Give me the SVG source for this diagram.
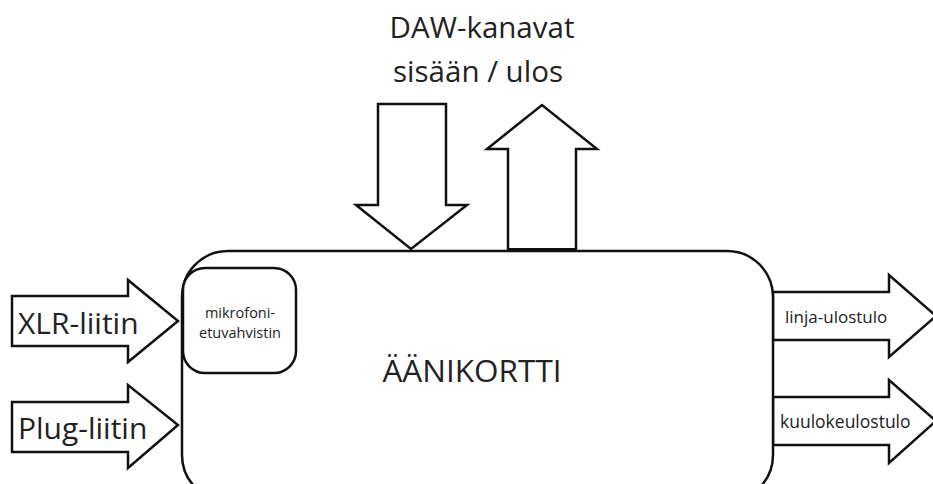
<svg xmlns="http://www.w3.org/2000/svg" width="933" height="484" viewBox="0 0 933 484">
<style>
.s{fill:#fff;stroke:#111;stroke-width:2.5;stroke-linejoin:miter}
.t{font-family:"Open Sans","Noto Sans",sans-serif;fill:#222}
</style>
<rect width="933" height="484" fill="#fff"/>
<g id="connectors">
<polygon class="s" points="12,296 128,296 128,280 178,321 128,362 128,346 12,346"/>
<polygon class="s" points="12,402 128,402 128,385 178,425 128,468 128,452 12,452"/>
<polygon class="s" points="378,104 446,104 446,205 467,205 411,249 356,205 378,205"/>
<polygon class="s" points="508,250 508,149 487,149 542,105 597,149 576,149 576,250"/>
<polygon class="s" points="773,292 889,292 889,275 936,316 889,357 889,340 773,340"/>
<polygon class="s" points="773,397 889,397 889,380 936,421 889,463 889,445 773,445"/>
</g>
<g id="aanikortti">
<rect class="s" x="182" y="251" width="591" height="250" rx="46" ry="46"/>
<line x1="508" y1="250" x2="576" y2="250" stroke="#111" stroke-width="4"/>
<text class="t" x="472" y="382" font-size="31.5" text-anchor="middle">ÄÄNIKORTTI</text>
</g>
<g id="esivahvistin">
<rect class="s" x="183" y="268" width="113" height="105" rx="22" ry="22"/>
<text class="t" x="240" y="318" font-size="14.5" text-anchor="middle">mikrofoni-</text>
<text class="t" x="240" y="338" font-size="14.5" text-anchor="middle">etuvahvistin</text>
</g>
<g id="labels">
<text class="t" x="18" y="334" font-size="30">XLR-liitin</text>
<text class="t" x="18" y="439" font-size="30">Plug-liitin</text>
<text class="t" x="785" y="323" font-size="17">linja-ulostulo</text>
<text class="t" x="780" y="428" font-size="17.5">kuulokeulostulo</text>
<text class="t" x="482" y="38" font-size="29.5" text-anchor="middle">DAW-kanavat</text>
<text class="t" x="478" y="82" font-size="29.5" text-anchor="middle">sisään / ulos</text>
</g>
</svg>
